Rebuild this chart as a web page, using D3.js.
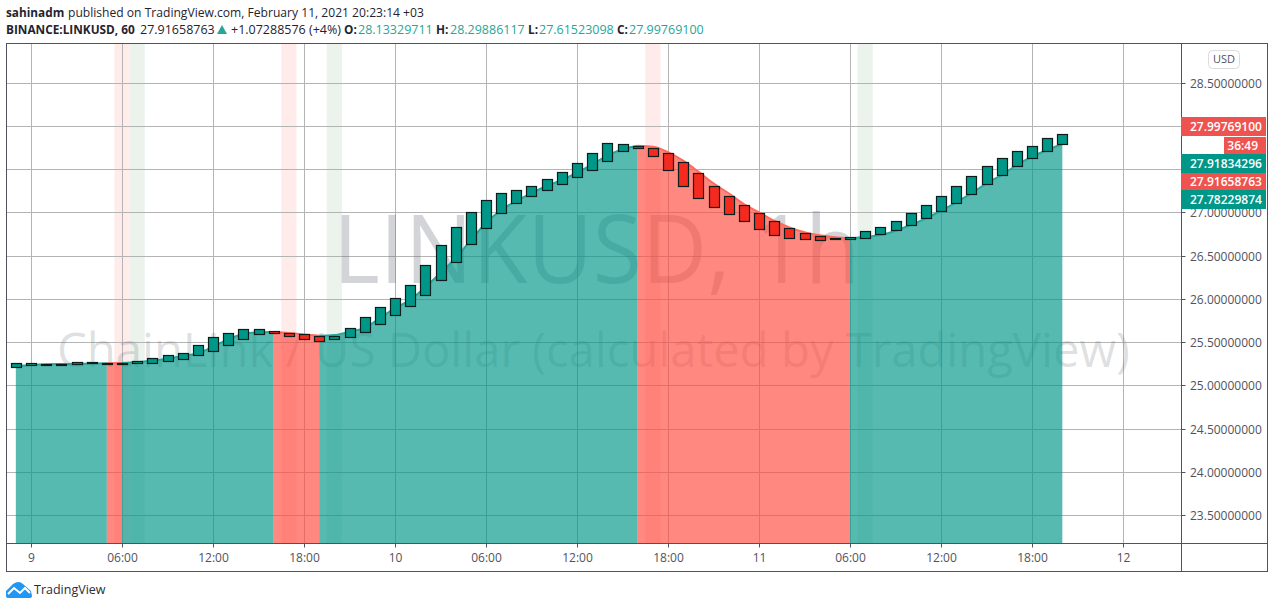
<!DOCTYPE html>
<html><head><meta charset="utf-8">
<script src="https://cdn.jsdelivr.net/npm/d3@7"></script>
<style>html,body{margin:0;padding:0;background:#fff;overflow:hidden}svg{display:block}text{font-family:"Open Sans",sans-serif}</style>
</head><body><div id="c"></div>
<script>
// hours since Feb 9 00:00 of the first candle
const firstHour = -1;
const bodyTop = [25.254,25.258,25.252,25.250,25.266,25.266,25.261,25.261,25.281,25.312,25.347,25.377,25.462,25.555,25.608,25.648,25.648,25.624,25.608,25.590,25.566,25.570,25.663,25.793,25.909,26.013,26.163,26.395,26.626,26.834,27.008,27.147,27.228,27.262,27.309,27.386,27.471,27.575,27.690,27.806,27.794,27.771,27.745,27.690,27.586,27.452,27.302,27.186,27.082,26.989,26.897,26.816,26.758,26.727,26.704,26.719,26.788,26.834,26.904,26.996,27.089,27.193,27.309,27.424,27.540,27.632,27.713,27.771,27.864,27.910];
const bodyBottom = [25.208,25.231,25.240,25.238,25.243,25.254,25.254,25.254,25.254,25.261,25.284,25.307,25.347,25.400,25.469,25.539,25.593,25.608,25.566,25.539,25.516,25.539,25.553,25.613,25.705,25.813,25.914,26.041,26.214,26.423,26.631,26.816,26.989,27.105,27.186,27.255,27.325,27.406,27.487,27.591,27.707,27.745,27.649,27.487,27.302,27.163,27.059,26.978,26.897,26.804,26.735,26.700,26.689,26.677,26.689,26.689,26.709,26.746,26.793,26.851,26.931,27.012,27.105,27.209,27.325,27.429,27.533,27.626,27.707,27.787];
const candleDown = [16,17,18,19,40,41,42,43,44,45,46,47,48,49,50,51,52,53];
const areaValues = [25.223,25.235,25.243,25.246,25.248,25.252,25.254,25.258,25.269,25.284,25.307,25.339,25.370,25.446,25.532,25.593,25.613,25.616,25.605,25.587,25.573,25.581,25.620,25.663,25.778,25.894,25.986,26.137,26.299,26.472,26.680,26.877,27.027,27.132,27.224,27.305,27.375,27.459,27.556,27.656,27.730,27.771,27.760,27.698,27.598,27.471,27.336,27.221,27.097,27.001,26.904,26.827,26.770,26.735,26.712,26.700,26.715,26.738,26.788,26.854,26.931,27.019,27.117,27.221,27.336,27.432,27.548,27.644,27.722,27.791];
// area trend changes: [first hour, last hour, trend]
const trendSegments = [[-1,5,"up"],[5,6,"down"],[6,16,"up"],[16,19,"down"],[19,40,"up"],[40,54,"down"],[54,68,"up"]];
const redBands = [6,17,41];
const greenBands = [7,20,55];
const priceTicks = [28.5,28,27.5,27,26.5,26,25.5,25,24.5,24,23.5];
// 28 and 27.5 sit behind the price labels in the reference
const hiddenPriceTexts = [28,27.5];
const timeTickHours = [0,6,12,18,24,30,36,42,48,54,60,66,72];
const timeTickLabels = ["9","06:00","12:00","18:00","10","06:00","12:00","18:00","11","06:00","12:00","18:00","12"];
const priceLabels = [["27.99769100","r"],["36:49","c"],["27.91834296","g"],["27.91658763","r"],["27.78229874","g"]];

const W=1274,H=608, L=6.5,R=1267.5,T=43.5,B=571.5, AX=1181.5, AY=543.5;
const TEAL="#009688", RED="#f52a1f", OUT="#0a1f1c";
const x=d3.scaleLinear().domain([0,72]).range([31,1123]);
const y=d3.scaleLinear().domain([23.5,28.5]).range([515,82.7]);
const svg=d3.select("#c").append("svg").attr("width",W).attr("height",H);
const defs=svg.append("defs");
defs.append("clipPath").attr("id","pane").append("rect").attr("x",L).attr("y",T).attr("width",AX-L).attr("height",AY-T);
const pane=svg.append("g").attr("clip-path","url(#pane)");
const hw=x(1)-x(0);
pane.selectAll(".rb").data(redBands).join("rect").attr("x",d=>x(d)-hw/2).attr("width",hw).attr("y",T).attr("height",AY-T).attr("fill","#ffebea");
pane.selectAll(".gb").data(greenBands).join("rect").attr("x",d=>x(d)-hw/2).attr("width",hw).attr("y",T).attr("height",AY-T).attr("fill","#ebf3ec");
// grid
pane.selectAll(".gy").data(priceTicks).join("line").attr("x1",L).attr("x2",AX).attr("y1",d=>Math.round(y(d))+.5).attr("y2",d=>Math.round(y(d))+.5).attr("stroke","#b4b4b4");
pane.selectAll(".gx").data(timeTickHours).join("line").attr("y1",T).attr("y2",AY).attr("x1",d=>Math.round(x(d))+.5).attr("x2",d=>Math.round(x(d))+.5).attr("stroke","#b4b4b4");
// watermark
pane.append("text").attr("x",333).attr("y",283).attr("font-size",96).attr("textLength",527).attr("lengthAdjust","spacingAndGlyphs").attr("fill","rgba(110,114,124,0.3)").text("LINKUSD, 1h");
pane.append("text").attr("x",57).attr("y",367).attr("font-size",48).attr("textLength",1073).attr("lengthAdjust","spacingAndGlyphs").attr("fill","rgba(110,114,124,0.22)").text("ChainLink / US Dollar (calculated by TradingView)");
// area
const pts=areaValues.map((v,i)=>({h:firstHour+i,v}));
const area=d3.area().x(d=>x(d.h)).y0(AY).y1(d=>y(d.v)).curve(d3.curveMonotoneX);
const line=d3.line().x(d=>x(d.h)).y(d=>y(d.v)).curve(d3.curveMonotoneX);
trendSegments.forEach(([a,b,t])=>{
  const s=pts.filter(p=>p.h>=a&&p.h<=b);
  const c=t==="up"?TEAL:"#ff4a3e";
  pane.append("path").attr("d",area(s)).attr("fill",c).attr("fill-opacity",.66);
  pane.append("path").attr("d",line(s)).attr("fill","none").attr("stroke",t==="up"?"#26a69a":"#ff6a5e").attr("stroke-width",2);
});
// candles
const cw=10;
pane.selectAll(".c").data(bodyTop.map((t,i)=>({i,h:firstHour+i,t,b:bodyBottom[i]}))).join("rect")
 .attr("x",d=>Math.round(x(d.h)-cw/2)+.5).attr("width",cw)
 .attr("y",d=>Math.round(y(d.t))+.5).attr("height",d=>Math.max(1,Math.round(y(d.b))-Math.round(y(d.t))))
 .attr("fill",d=>candleDown.includes(d.h)?RED:TEAL).attr("stroke",OUT).attr("stroke-width",1.2);
// frame
const fr="#50535e";
svg.append("rect").attr("x",L).attr("y",T).attr("width",R-L).attr("height",B-T).attr("fill","none").attr("stroke",fr);
svg.append("line").attr("x1",AX).attr("x2",AX).attr("y1",T).attr("y2",B).attr("stroke",fr);
svg.append("line").attr("x1",L).attr("x2",R).attr("y1",AY).attr("y2",AY).attr("stroke",fr);
// price axis
const axc="#50535e";
priceTicks.forEach(p=>{const yy=Math.round(y(p))+.5;
  svg.append("line").attr("x1",AX).attr("x2",AX+4).attr("y1",yy).attr("y2",yy).attr("stroke",fr);
  if(!hiddenPriceTexts.includes(p)) svg.append("text").attr("x",1190).attr("y",yy+4).attr("font-size",12).attr("fill",axc).text(p.toFixed(8));
});
timeTickHours.forEach((h,i)=>{const xx=Math.round(x(h))+.5;
  svg.append("line").attr("x1",xx).attr("x2",xx).attr("y1",AY).attr("y2",AY+4).attr("stroke",fr);
  svg.append("text").attr("x",xx).attr("y",562).attr("text-anchor","middle").attr("font-size",12).attr("fill",axc).text(timeTickLabels[i]);
});
// USD button
svg.append("rect").attr("x",1208.5).attr("y",50.5).attr("width",31).attr("height",18).attr("rx",4).attr("fill","#fff").attr("stroke","#dcdcdc");
svg.append("text").attr("x",1224).attr("y",63).attr("text-anchor","middle").attr("font-size",11).attr("fill",axc).text("USD");
// price labels (stacked to avoid overlap)
const slots=[[117,19],[137,17],[154,19],[173,17],[190,19]];
priceLabels.forEach(([t,k],i)=>{const [sy,sh]=slots[i];
  const x0=k==="c"?1224:1181;
  svg.append("rect").attr("x",x0).attr("y",sy).attr("width",1266-x0).attr("height",sh).attr("fill",k==="g"?TEAL:"#ef5350");
  svg.append("text").attr("x",k==="c"?1258:1190).attr("y",sy+sh/2+4).attr("text-anchor",k==="c"?"end":"start").attr("font-size",12).attr("font-weight",600).attr("fill","#fff").text(t);
});
// header
const hdr=(xp,yp,t,o={})=>svg.append("text").attr("x",xp).attr("y",yp).attr("font-size",o.s||12.5).attr("font-weight",o.b?700:400).attr("fill",o.c||"#1f2430").text(t);
hdr(6,17,"sahinadm",{b:1,s:11.8});
hdr(68,17,"published on TradingView.com, February 11, 2021 20:23:14 +03",{s:12.1});
hdr(6,34,"BINANCE:LINKUSD, 60",{b:1,s:11.8});
hdr(140,34,"27.91658763");
svg.append("path").attr("d",d3.line()([[217,34],[227,34],[222,25]])+"Z").attr("fill","#26a69a");
hdr(231,34,"+1.07288576 (+4%)");
const ohlcLabels=["O:","H:","L:","C:"], ohlcValues=["28.13329711","28.29886117","27.61523098","27.99769100"];
[[344,358],[436,450],[528,539],[617,629]].forEach(([a,b],i)=>{hdr(a,34,ohlcLabels[i],{b:1,s:11.8});hdr(b,34,ohlcValues[i],{c:"#26a69a"});});
// logo
svg.append("path").attr("d","M6 596 L6 591 L13 584 Q19 580 23 584 L31 591 L32 596 Q32 598 29 598 L9 598 Q6 598 6 596Z").attr("fill","#2196f3");
svg.append("path").attr("d","M8 594 L14 588 L20 593 L25 588 L30 593").attr("fill","none").attr("stroke","#fff").attr("stroke-width",2);
svg.append("text").attr("x",34).attr("y",594).attr("font-size",12.5).attr("fill","#2a2e39").text("TradingView");
</script></body></html>
